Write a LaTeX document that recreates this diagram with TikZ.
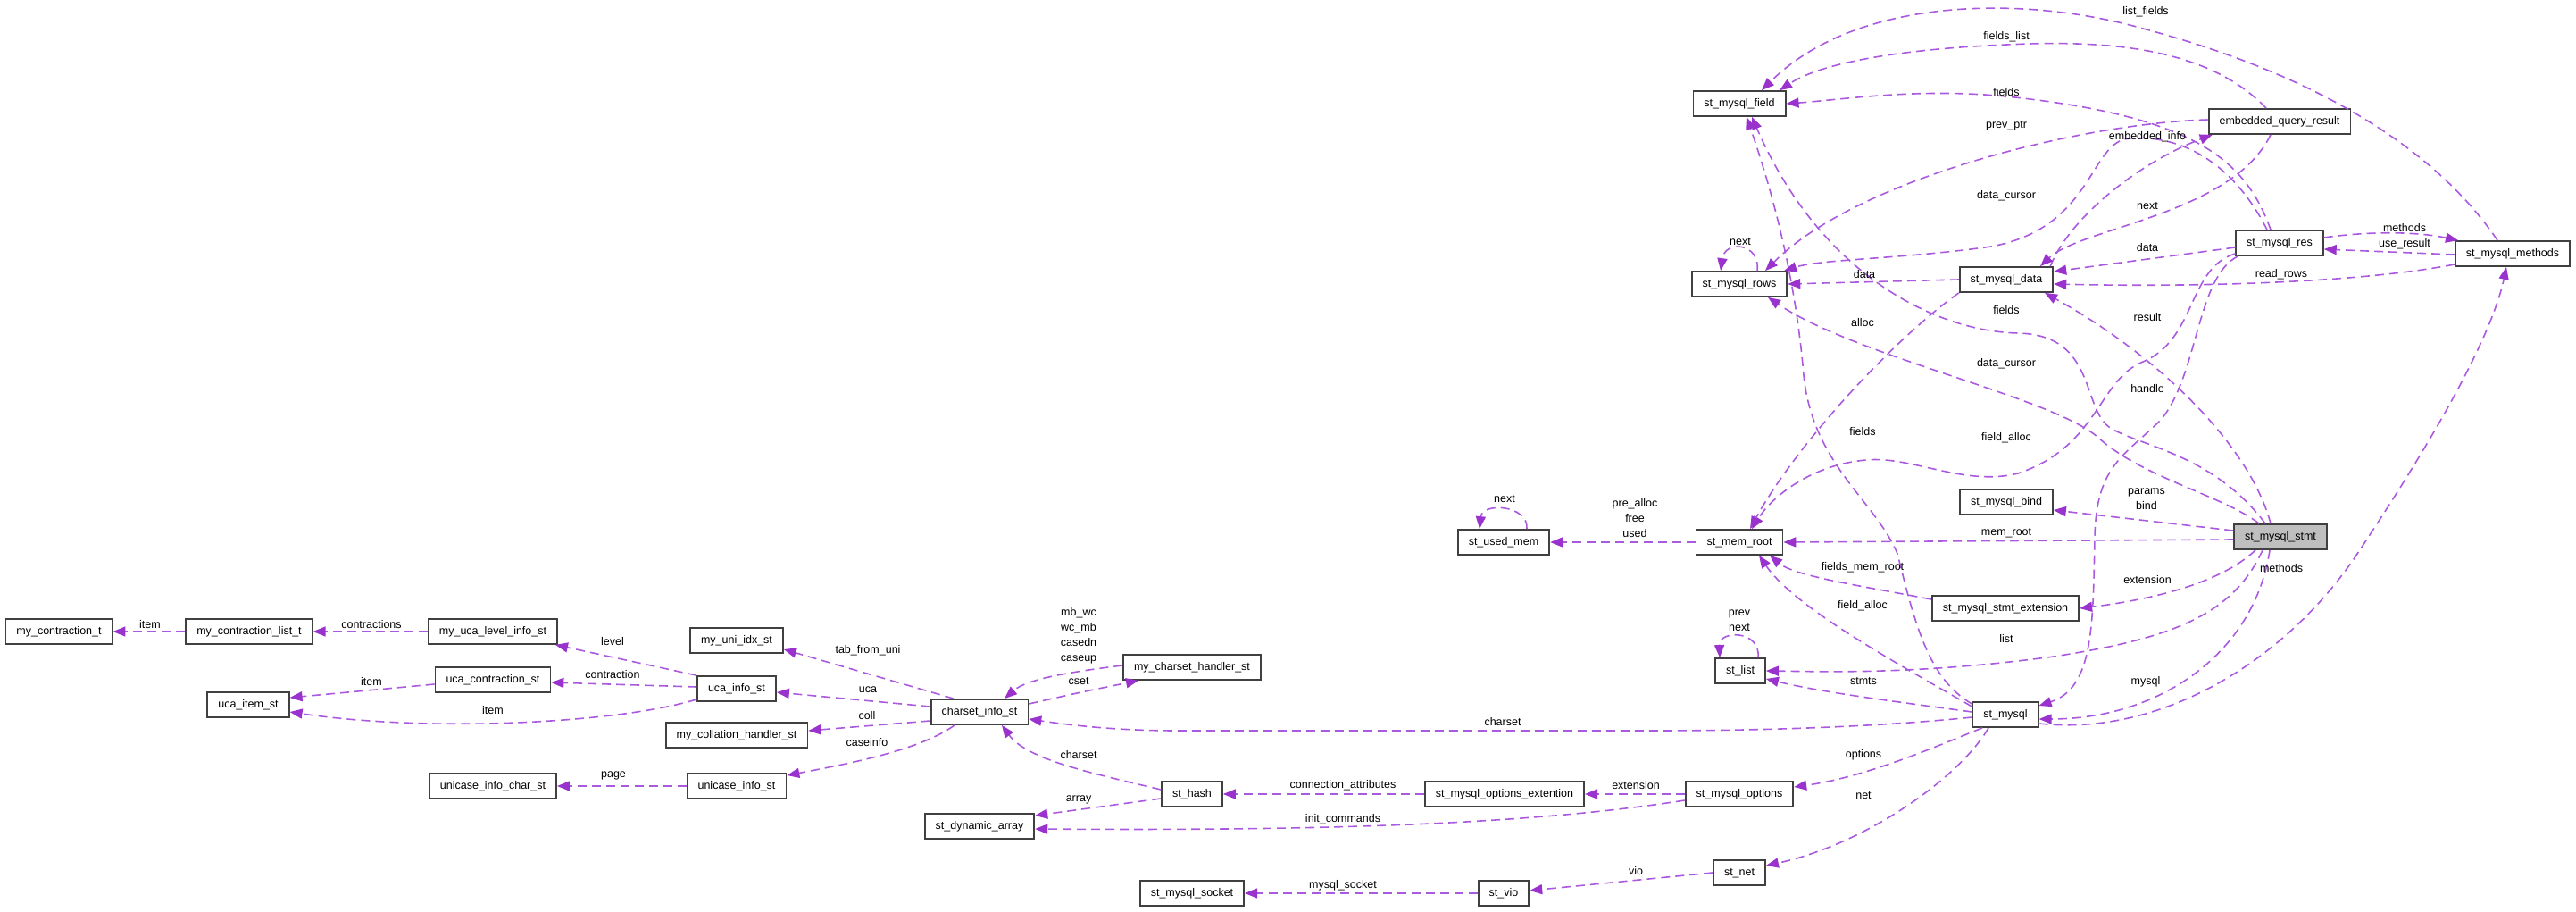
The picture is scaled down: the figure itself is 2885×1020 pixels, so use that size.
\documentclass[tikz,border=0pt]{standalone}
\usepackage{fontspec}
\setmainfont{Liberation Sans}
\usetikzlibrary{arrows.meta}
\definecolor{edgeLine}{RGB}{170,90,222}
\definecolor{edgeTip}{RGB}{154,50,205}
\definecolor{boxLine}{RGB}{64,64,64}
\definecolor{selFill}{RGB}{191,191,191}
\newcommand{\dfont}{\fontsize{12.5}{17}\selectfont}

\begin{document}
\begin{tikzpicture}[x=1pt, y=-1pt,
    cbox/.style={draw=boxLine, line width=1.8pt, fill=white, inner xsep=12pt, inner ysep=0pt, minimum height=28pt, text height=9pt, text depth=2.6pt, font=\dfont},
    memb/.style={draw=edgeLine, line width=1.6pt, dash pattern=on 10pt off 6pt, -{Triangle[length=14pt, width=11pt, color=edgeTip]}},
    elab/.style={font=\dfont, inner sep=0pt, align=center},
]
\useasboundingbox (0,0) rectangle (2885,1020);

% Result set structs
\node[cbox] (fld) at (1948,116) {st\_mysql\_field};
\node[cbox] (eqr) at (2553,136) {embedded\_query\_result};
\node[cbox] (rows) at (1948,318) {st\_mysql\_rows};
\node[cbox] (data) at (2247,313) {st\_mysql\_data};
\node[cbox] (res) at (2553,272) {st\_mysql\_res};
\node[cbox] (meth) at (2814,284) {st\_mysql\_methods};

% Statement and connection
\node[cbox] (bind) at (2247,562) {st\_mysql\_bind};
\node[cbox] (used) at (1684,607) {st\_used\_mem};
\node[cbox] (memroot) at (1948,607) {st\_mem\_root};
\node[cbox, fill=selFill] (stmt) at (2554,601) {st\_mysql\_stmt};
\node[cbox] (ext) at (2246,681) {st\_mysql\_stmt\_extension};
\node[cbox] (list) at (1949,751) {st\_list};
\node[cbox] (mysql) at (2246,800) {st\_mysql};
\node[cbox] (opts) at (1948,889) {st\_mysql\_options};
\node[cbox] (net) at (1948,977) {st\_net};
\node[cbox] (vio) at (1684,1000) {st\_vio};
\node[cbox] (sock) at (1335,1000) {st\_mysql\_socket};
\node[cbox] (optext) at (1685,889) {st\_mysql\_options\_extention};
\node[cbox] (hash) at (1335,889) {st\_hash};
\node[cbox] (dyn) at (1097,925) {st\_dynamic\_array};

% Charset structs
\node[cbox] (cs) at (1097,797) {charset\_info\_st};
\node[cbox] (csh) at (1335,747) {my\_charset\_handler\_st};
\node[cbox] (uniidx) at (825,717) {my\_uni\_idx\_st};
\node[cbox] (ucainfo) at (825,771) {uca\_info\_st};
\node[cbox] (coll) at (825,823) {my\_collation\_handler\_st};
\node[cbox] (unicase) at (825,880) {unicase\_info\_st};
\node[cbox] (unichar) at (552,880) {unicase\_info\_char\_st};
\node[cbox] (lvl) at (552,707) {my\_uca\_level\_info\_st};
\node[cbox] (ucacon) at (552,761) {uca\_contraction\_st};
\node[cbox] (ucaitem) at (278,789) {uca\_item\_st};
\node[cbox] (clist) at (279,707) {my\_contraction\_list\_t};
\node[cbox] (ctr) at (66,707) {my\_contraction\_t};

% Edges - result set
\draw[memb] ([xshift=-17pt]meth.north) .. controls (2730,170) and (2600,85) .. (2400,32) .. controls (2270,-5) and (2080,-5) .. ([xshift=25pt]fld.north);
\draw[memb] ([xshift=-15pt]eqr.north) .. controls (2470,50) and (2350,45) .. (2247,50) .. controls (2130,55) and (2040,70) .. ([xshift=45pt]fld.north);
\draw[memb] ([xshift=-10pt]res.north) .. controls (2515,180) and (2460,130) .. (2247,108) .. controls (2147,98) and (2060,112) .. (fld.east);
\draw[memb] ([yshift=2pt]eqr.west) .. controls (2330,138) and (2080,200) .. ([xshift=29pt]rows.north);
\draw[memb] ([xshift=-14pt]res.north) .. controls (2505,190) and (2450,150) .. (2385,155) .. controls (2340,158) and (2345,255) .. (2230,276) .. controls (2130,290) and (2040,290) .. ([xshift=50pt]rows.north);
\draw[memb] ([xshift=-4pt]data.north east) .. controls (2320,240) and (2400,180) .. ([xshift=5pt]eqr.south west);
\draw[memb] ([xshift=-10pt]eqr.south) .. controls (2500,240) and (2330,255) .. ([xshift=38pt]data.north);
\draw[memb] (data.west) -- (rows.east);
\draw[memb] ([yshift=-5pt]res.west) -- ([yshift=9pt]data.east);
\draw[memb] ([yshift=-12pt]meth.west) .. controls (2650,315) and (2480,322) .. ([yshift=-5pt]data.east);
\draw[memb] ([yshift=-1pt]meth.west) -- ([yshift=-7pt]res.east);
\draw[memb] ([yshift=6pt]res.east) .. controls (2660,258) and (2710,260) .. ([xshift=4pt]meth.north west);
\draw[memb] ([xshift=20pt]rows.north) .. controls (1972,272) and (1932,268) .. ([xshift=-21pt]rows.north);

% Edges - statement
\draw[memb] ([yshift=7pt]stmt.west) -- ([yshift=-9pt]bind.east);
\draw[memb] ([yshift=-3pt]stmt.west) -- (memroot.east);
\draw[memb] ([xshift=-11pt]stmt.north) .. controls (2520,500) and (2420,400) .. ([xshift=43pt]data.south);
\draw[memb] ([xshift=-17pt]stmt.north) .. controls (2480,510) and (2400,500) .. (2365,480) .. controls (2330,460) and (2350,375) .. (2260,373) .. controls (2170,371) and (2040,310) .. ([xshift=14pt]fld.south);
\draw[memb] ([xshift=-24pt]stmt.north) .. controls (2490,555) and (2400,535) .. (2350,490) .. controls (2300,445) and (2080,400) .. ([xshift=32pt]rows.south);
\draw[memb] ([xshift=-28pt]stmt.south) .. controls (2490,650) and (2420,670) .. (ext.east);
\draw[memb] ([xshift=-20pt]stmt.south) .. controls (2500,690) and (2430,715) .. (2300,735) .. controls (2150,755) and (2050,752) .. (list.east);
\draw[memb] ([xshift=-12pt]stmt.south) .. controls (2525,730) and (2420,805) .. ([yshift=-5pt]mysql.east);

% Edges - result set into memory and connection
\draw[memb] ([yshift=-12pt]res.west) .. controls (2450,300) and (2460,380) .. (2400,405) .. controls (2350,425) and (2350,500) .. (2260,530) .. controls (2200,545) and (2140,510) .. (2090,515) .. controls (2030,520) and (1985,555) .. ([xshift=14pt]memroot.north);
\draw[memb] ([xshift=3pt]res.south west) .. controls (2460,310) and (2462,420) .. (2420,470) .. controls (2380,510) and (2348,520) .. (2346,600) .. controls (2344,700) and (2345,770) .. ([yshift=10pt]mysql.east);
\draw[memb] (data.south west) .. controls (2120,380) and (2010,500) .. ([xshift=12pt]memroot.north);

% Edges - connection
\draw[memb] ([yshift=-10pt]mysql.east) .. controls (2420,825) and (2560,740) .. (2640,620) .. controls (2720,500) and (2790,380) .. ([xshift=-7pt]meth.south);
\draw[memb] ([yshift=12pt]mysql.west) .. controls (2160,760) and (2145,700) .. (2125,620) .. controls (2100,560) and (2030,520) .. (2020,420) .. controls (2010,300) and (1980,200) .. ([xshift=8pt]fld.south);
\draw[memb] ([yshift=9pt]mysql.west) .. controls (2120,740) and (2010,680) .. ([xshift=22pt]memroot.south);
\draw[memb] ([yshift=10pt]ext.west) .. controls (2080,655) and (2010,645) .. ([xshift=34pt]memroot.south);
\draw[memb] ([yshift=3pt]mysql.west) .. controls (2120,785) and (2040,775) .. ([yshift=-9pt]list.east);
\draw[memb] ([xshift=20pt]list.north) .. controls (1972,705) and (1925,705) .. ([xshift=-23pt]list.north);
\draw[memb] ([yshift=-3pt]mysql.west) .. controls (2120,812) and (2000,818) .. (1850,818) -- (1320,818) .. controls (1250,818) and (1200,812) .. ([yshift=-8pt]cs.east);
\draw[memb] ([xshift=-26pt]mysql.south) .. controls (2170,835) and (2090,870) .. ([yshift=8pt]opts.east);
\draw[memb] ([xshift=-19pt]mysql.south) .. controls (2195,870) and (2090,945) .. ([yshift=8pt]net.east);
\draw[memb] (memroot.west) -- (used.east);
\draw[memb] ([xshift=26pt]used.north) .. controls (1712,565) and (1660,562) .. ([xshift=-27pt]used.north);

% Edges - options, net
\draw[memb] (opts.west) -- (optext.east);
\draw[memb] ([yshift=-7pt]opts.west) .. controls (1700,925) and (1450,930) .. ([yshift=-3pt]dyn.east);
\draw[memb] (optext.west) -- (hash.east);
\draw[memb] ([yshift=5pt]hash.west) .. controls (1220,865) and (1150,850) .. ([xshift=25pt]cs.south);
\draw[memb] ([yshift=-5pt]hash.west) -- ([yshift=12pt]dyn.east);
\draw[memb] (net.west) -- ([yshift=3pt]vio.east);
\draw[memb] (vio.west) -- (sock.east);

% Edges - charset
\draw[memb] ([yshift=9pt]cs.east) .. controls (1210,775) .. ([xshift=-60pt]csh.south);
\draw[memb] ([yshift=2pt]csh.west) .. controls (1200,752) and (1150,760) .. ([xshift=28pt]cs.north);
\draw[memb] ([xshift=-29pt]cs.north) -- ([yshift=-10pt]uniidx.east);
\draw[memb] ([yshift=6pt]cs.west) -- ([yshift=-4pt]ucainfo.east);
\draw[memb] ([yshift=-10pt]cs.west) -- ([yshift=5pt]coll.east);
\draw[memb] ([xshift=-28pt]cs.south) .. controls (1030,840) and (950,855) .. ([yshift=12pt]unicase.east);
\draw[memb] (unicase.west) -- (unichar.east);
\draw[memb] (ucainfo.north west) -- ([xshift=-3pt]lvl.south east);
\draw[memb] ([yshift=2pt]ucainfo.west) -- ([yshift=-3pt]ucacon.east);
\draw[memb] ([yshift=-12pt]ucainfo.west) .. controls (690,810) and (480,820) .. ([yshift=-8pt]ucaitem.east);
\draw[memb] ([yshift=-5pt]ucacon.west) -- ([yshift=8pt]ucaitem.east);
\draw[memb] (lvl.west) -- (clist.east);
\draw[memb] (clist.west) -- (ctr.east);

% Edge labels
\node[elab] (l-listfields) at (2403,13) {list\_fields};
\node[elab] (l-fieldslist) at (2247,41) {fields\_list};
\node[elab] (l-resfields) at (2247,103) {fields};
\node[elab] (l-prevptr) at (2247,141) {prev\_ptr};
\node[elab] (l-embinfo) at (2405,153) {embedded\_info};
\node[elab] (l-rescursor) at (2247,219) {data\_cursor};
\node[elab] (l-eqrnext) at (2405,231) {next};
\node[elab] (l-resmeth) at (2693,255) {methods};
\node[elab] (l-useres) at (2693,273) {use\_result};
\node[elab] (l-rowsnext) at (1949,271) {next};
\node[elab] (l-resdata) at (2405,277) {data};
\node[elab] (l-datarows) at (2088,307) {data};
\node[elab] (l-readrows) at (2555,307) {read\_rows};
\node[elab] (l-stmtfields) at (2247,347) {fields};
\node[elab] (l-result) at (2405,355) {result};
\node[elab] (l-alloc) at (2086,361) {alloc};
\node[elab] (l-stmtcursor) at (2247,407) {data\_cursor};
\node[elab] (l-handle) at (2405,435) {handle};
\node[elab] (l-mysqlfields) at (2086,483) {fields};
\node[elab] (l-resalloc) at (2247,490) {field\_alloc};
\node[elab] (l-bind) at (2404,559) {params\\bind};
\node[elab] (l-usednext) at (1685,559) {next};
\node[elab] (l-memused) at (1831,580) {pre\_alloc\\free\\used};
\node[elab] (l-memroot) at (2247,597) {mem\_root};
\node[elab] (l-fmemroot) at (2086,635) {fields\_mem\_root};
\node[elab] (l-mysqlmeth) at (2555,636) {methods};
\node[elab] (l-ext) at (2405,649) {extension};
\node[elab] (l-mysqlalloc) at (2086,678) {field\_alloc};
\node[elab] (l-listself) at (1948,695) {prev\\next};
\node[elab] (l-list) at (2247,715) {list};
\node[elab] (l-stmts) at (2087,763) {stmts};
\node[elab] (l-mysql) at (2403,763) {mysql};
\node[elab] (l-charset) at (1683,808) {charset};
\node[elab] (l-options) at (2087,845) {options};
\node[elab] (l-net) at (2087,891) {net};
\node[elab] (l-handler) at (1208,712) {mb\_wc\\wc\_mb\\casedn\\caseup};
\node[elab] (l-cset) at (1208,763) {cset};
\node[elab] (l-tabuni) at (972,728) {tab\_from\_uni};
\node[elab] (l-uca) at (972,772) {uca};
\node[elab] (l-coll) at (971,801) {coll};
\node[elab] (l-caseinfo) at (971,831) {caseinfo};
\node[elab] (l-hashcs) at (1208,845) {charset};
\node[elab] (l-connattr) at (1504,879) {connection\_attributes};
\node[elab] (l-optext) at (1832,879) {extension};
\node[elab] (l-array) at (1208,895) {array};
\node[elab] (l-initcmd) at (1504,917) {init\_commands};
\node[elab] (l-socket) at (1504,991) {mysql\_socket};
\node[elab] (l-vio) at (1832,975) {vio};
\node[elab] (l-ctritem) at (168,699) {item};
\node[elab] (l-contractions) at (416,699) {contractions};
\node[elab] (l-level) at (686,718) {level};
\node[elab] (l-contraction) at (686,755) {contraction};
\node[elab] (l-conitem) at (416,763) {item};
\node[elab] (l-ucaitem) at (552,795) {item};
\node[elab] (l-page) at (687,868) {page};
\end{tikzpicture}
\end{document}
